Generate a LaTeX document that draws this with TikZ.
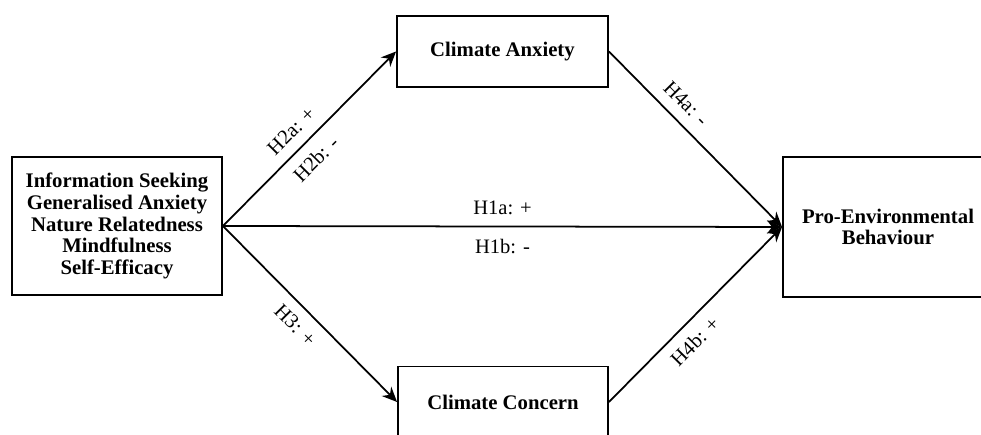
\documentclass[tikz,border=0pt]{standalone}
\usepackage{fontspec}
\setmainfont{Liberation Serif}
\usetikzlibrary{arrows.meta, positioning}

\begin{document}
\begin{tikzpicture}[
        x=0.02cm, y=0.02cm,
        box/.style={draw=black, fill=white, line width=1.1pt, align=center,
                    font=\bfseries\fontsize{11.8}{12.3}\selectfont, inner sep=0pt},
        arr/.style={-{Stealth[length=8.5pt, width=7.5pt]}, black, line width=1pt},
        hyp/.style={font=\fontsize{11.7}{14}\selectfont, sloped, inner sep=6pt},
      ]
        \useasboundingbox (0,0) rectangle (981,435);
        \node[box, minimum width=4.2cm, minimum height=2.76cm] (pred) at (117,209)
            {Information Seeking\\Generalised Anxiety\\Nature Relatedness\\Mindfulness\\Self-Efficacy};
        \node[box, minimum width=4.22cm, minimum height=1.42cm] (anx) at (502.5,383.5) {Climate Anxiety};
        \node[box, minimum width=4.2cm, minimum height=1.42cm] (conc) at (503,33) {Climate Concern};
        \node[box, minimum width=4.2cm, minimum height=2.8cm] (peb) at (888,208)
            {Pro-Environmental\\Behaviour};
        % paths
        \draw[arr] (pred.east) -- node[hyp, above, pos=0.47]{H2a: +}
                                  node[hyp, below, pos=0.46]{H2b: -} (anx.west);
        \draw[arr] (pred.east) -- node[hyp, below, pos=0.49]{H3: +} (conc.west);
        \draw[arr] (pred.east) -- node[hyp, above]{H1a: +}
                                  node[hyp, below, inner sep=7pt]{H1b: -} (peb.west);
        \draw[arr] (anx.east) -- node[hyp, above, pos=0.37]{H4a: -} (peb.west);
        \draw[arr] (conc.east) -- node[hyp, below, pos=0.42]{H4b: +} (peb.west);
      \end{tikzpicture}
\end{document}
